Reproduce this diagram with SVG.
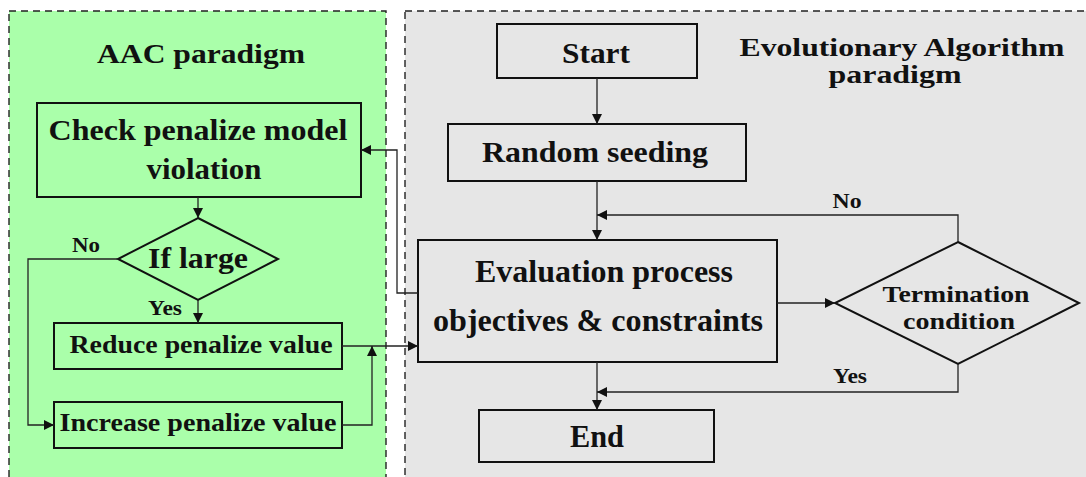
<svg xmlns="http://www.w3.org/2000/svg" width="1086" height="477" viewBox="0 0 1086 477">
<style>
  .panel { stroke: #222; stroke-width: 1.4; stroke-dasharray: 7 5; }
  .box { stroke: #111; stroke-width: 2; }
  .green { fill: #aaffaa; }
  .gray { fill: #e6e6e6; }
  .t { font-family: "Liberation Serif", "Times New Roman", serif; font-weight: bold; fill: #111; text-anchor: middle; }
  .conn { fill: none; stroke: #222; stroke-width: 1.3; }
</style>
<defs>
  <marker id="arrow" viewBox="0 0 10 10" refX="10" refY="5" markerWidth="10" markerHeight="10" markerUnits="userSpaceOnUse" orient="auto">
    <path d="M0,0 L10,5 L0,10 Z" fill="#111"/>
  </marker>
</defs>
<rect width="1086" height="477" fill="#ffffff"/>

<!-- panels -->
<g id="aac-panel">
  <rect class="panel green" x="9" y="11" width="377" height="480"/>
  <text class="t" x="201" y="63" font-size="28" textLength="208" lengthAdjust="spacingAndGlyphs">AAC paradigm</text>
</g>
<g id="ea-panel">
  <rect class="panel gray" x="405" y="11" width="700" height="480"/>
  <text class="t" x="902" y="56" font-size="26" textLength="325" lengthAdjust="spacingAndGlyphs">Evolutionary Algorithm</text>
  <text class="t" x="895" y="83" font-size="26" textLength="133" lengthAdjust="spacingAndGlyphs">paradigm</text>
</g>

<!-- AAC nodes -->
<g id="check">
  <rect class="box green" x="37" y="103" width="324" height="94"/>
  <text class="t" x="198" y="140" font-size="29" textLength="299" lengthAdjust="spacingAndGlyphs">Check penalize model</text>
  <text class="t" x="204" y="179" font-size="29" textLength="115" lengthAdjust="spacingAndGlyphs">violation</text>
</g>
<g id="if-large">
  <polygon class="box green" points="198,218 278,259 198,300 118,259"/>
  <text class="t" x="198" y="268" font-size="30" textLength="100" lengthAdjust="spacingAndGlyphs">If large</text>
</g>
<g id="reduce">
  <rect class="box green" x="54" y="323" width="288" height="46"/>
  <text class="t" x="201" y="353" font-size="25" textLength="263" lengthAdjust="spacingAndGlyphs">Reduce penalize value</text>
</g>
<g id="increase">
  <rect class="box green" x="54" y="402" width="288" height="46"/>
  <text class="t" x="198" y="431" font-size="26" textLength="277" lengthAdjust="spacingAndGlyphs">Increase penalize value</text>
</g>

<!-- EA nodes -->
<g id="start">
  <rect class="box gray" x="497" y="24" width="200" height="54"/>
  <text class="t" x="596" y="63" font-size="30" textLength="68" lengthAdjust="spacingAndGlyphs">Start</text>
</g>
<g id="seeding">
  <rect class="box gray" x="448" y="124" width="298" height="57"/>
  <text class="t" x="595" y="162" font-size="30" textLength="226" lengthAdjust="spacingAndGlyphs">Random seeding</text>
</g>
<g id="evaluation">
  <rect class="box gray" x="418" y="240" width="359" height="122"/>
  <text class="t" x="604" y="282" font-size="31" textLength="258" lengthAdjust="spacingAndGlyphs">Evaluation process</text>
  <text class="t" x="598" y="331" font-size="31" textLength="330" lengthAdjust="spacingAndGlyphs">objectives &amp; constraints</text>
</g>
<g id="termination">
  <polygon class="box gray" points="958,242 1079,303 958,364 835,303"/>
  <text class="t" x="956" y="302" font-size="24" textLength="147" lengthAdjust="spacingAndGlyphs">Termination</text>
  <text class="t" x="959" y="329" font-size="24" textLength="112" lengthAdjust="spacingAndGlyphs">condition</text>
</g>
<g id="end">
  <rect class="box gray" x="479" y="410" width="235" height="52"/>
  <text class="t" x="597" y="447" font-size="31" textLength="54" lengthAdjust="spacingAndGlyphs">End</text>
</g>

<!-- connectors -->
<g id="connectors">
  <path class="conn" d="M198,197 V218" marker-end="url(#arrow)"/>
  <path class="conn" d="M198,300 V323" marker-end="url(#arrow)"/>
  <path class="conn" d="M118,259 H28 V425 H54" marker-end="url(#arrow)"/>
  <path class="conn" d="M342,346 H418" marker-end="url(#arrow)"/>
  <path class="conn" d="M342,425 H372 V346" marker-end="url(#arrow)"/>
  <path class="conn" d="M418,293 H397 V150 H361" marker-end="url(#arrow)"/>
  <path class="conn" d="M597,78 V124" marker-end="url(#arrow)"/>
  <path class="conn" d="M597,181 V240" marker-end="url(#arrow)"/>
  <path class="conn" d="M958,242 V215 H597" marker-end="url(#arrow)"/>
  <path class="conn" d="M777,303 H835" marker-end="url(#arrow)"/>
  <path class="conn" d="M597,362 V410" marker-end="url(#arrow)"/>
  <path class="conn" d="M958,364 V392 H597" marker-end="url(#arrow)"/>
  <text class="t" x="86" y="252" font-size="21" textLength="28" lengthAdjust="spacingAndGlyphs">No</text>
  <text class="t" x="165" y="315" font-size="21" textLength="34" lengthAdjust="spacingAndGlyphs">Yes</text>
  <text class="t" x="847" y="208" font-size="21" textLength="29" lengthAdjust="spacingAndGlyphs">No</text>
  <text class="t" x="850" y="383" font-size="21" textLength="34" lengthAdjust="spacingAndGlyphs">Yes</text>
</g>
</svg>
